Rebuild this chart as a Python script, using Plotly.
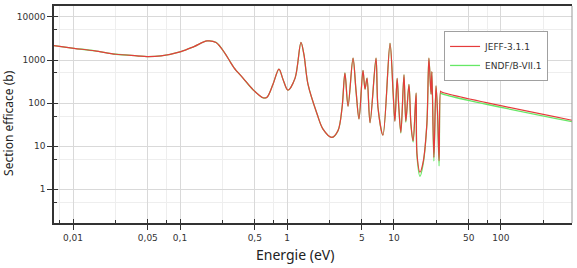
import plotly.graph_objects as go

# Energy (eV) and cross section (b)
energy = [0.00664, 0.0102, 0.0160, 0.0252, 0.0396, 0.0492, 0.0664, 0.102, 0.135, 0.179, 0.217,
          0.264, 0.293, 0.320, 0.388, 0.481, 0.597, 0.650, 0.740, 0.841, 0.918,
          1.02, 1.19, 1.35, 1.44, 1.57, 1.91, 2.17, 2.63, 3.00, 3.27,
          3.48, 3.72, 4.14, 4.42, 4.71, 5.13, 5.36, 5.60, 5.97, 6.79,
          7.09, 7.89, 9.18, 9.80, 10.2, 10.7, 11.1, 11.6, 12.4, 12.9,
          13.8, 14.4, 15.1, 16.1, 16.4, 17.5, 18.7, 20.3, 21.2, 22.2,
          22.6, 23.6, 24.7, 25.5, 26.4, 27.2, 27.5, 461]
sigma_jeff = [2150, 1870, 1630, 1360, 1250, 1200, 1250, 1570, 2050, 2770, 2560,
              1410, 925, 660, 380, 205, 133, 137, 275, 615, 355,
              200, 380, 2560, 1330, 275, 56, 25, 16, 23, 78,
              500, 85, 1100, 190, 43, 575, 210, 380, 35, 1100,
              78, 18, 2450, 190, 38, 375, 78, 21, 455, 38,
              270, 33, 13.4, 170, 6.7, 2.5, 4.2, 33, 1100, 160,
              540, 5.5, 250, 65, 4.6, 190, 183, 40]
sigma_endf = [2150, 1870, 1630, 1360, 1250, 1200, 1250, 1570, 2050, 2770, 2560,
              1410, 925, 660, 380, 205, 133, 137, 275, 615, 355,
              200, 380, 2560, 1330, 275, 56, 25, 16, 23, 78,
              500, 85, 1100, 190, 43, 575, 210, 380, 35, 1100,
              78, 18, 2450, 190, 38, 375, 78, 20, 455, 36,
              270, 31, 12.5, 170, 6.0, 2.0, 3.8, 33, 1100, 160,
              540, 4.5, 250, 65, 3.5, 175, 168, 37]

x_tickvals = [0.01, 0.05, 0.1, 0.5, 1, 5, 10, 50, 100]
x_ticktext = ["0,01", "0,05", "0,1", "0,5", "1", "5", "10", "50", "100"]
x_minor = [0.0075, 0.025, 0.075, 0.25, 0.75, 2.5, 7.5, 25, 75, 250]
y_tickvals = [1, 10, 100, 1000, 10000]
y_ticktext = ["1", "10", "100", "1000", "10000"]
y_minor = [0.5, 5, 50, 500, 5000]

fig = go.Figure()
fig.add_trace(go.Scatter(x=energy, y=sigma_endf, mode="lines", name="ENDF/B-VII.1",
                         line=dict(color="#66e866", width=1.3, shape="spline", smoothing=0.9),
                         legendrank=2))
fig.add_trace(go.Scatter(x=energy, y=sigma_jeff, mode="lines", name="JEFF-3.1.1",
                         line=dict(color="#e53c3c", width=1.2, shape="spline", smoothing=0.9),
                         legendrank=1))

xr = [-2.178, 2.664]
yr = [-0.782, 4.253]
tickfont = dict(family="DejaVu Sans", size=9, color="#333333")
titlefont = dict(family="Noto Sans", color="#222222")

fig.update_layout(
    width=577, height=268,
    margin=dict(l=54, r=5, t=4, b=45),
    paper_bgcolor="white", plot_bgcolor="white",
    showlegend=True,
    legend=dict(x=0.753, y=0.885, xanchor="left", yanchor="top",
                bgcolor="white", bordercolor="#a0a0a0", borderwidth=1,
                font=dict(family="DejaVu Sans", size=9, color="#333333"),
                tracegroupgap=0, itemwidth=30),
    xaxis=dict(type="log", range=xr, tickmode="array", tickvals=x_tickvals,
               ticktext=x_ticktext, tickfont=tickfont, ticks="outside", ticklen=5,
               tickcolor="#333333", showline=True, linecolor="#333333", linewidth=1.5,
               mirror=True, gridcolor="#d9d9d9", gridwidth=1, zeroline=False,
               minor=dict(tickmode="array", tickvals=x_minor, ticks="inside",
                          ticklen=3, tickcolor="#333333", showgrid=True,
                          gridcolor="#eeeeee", gridwidth=1)),
    yaxis=dict(type="log", range=yr, tickmode="array", tickvals=y_tickvals,
               ticktext=y_ticktext, tickfont=tickfont, ticks="outside", ticklen=5,
               tickcolor="#333333", showline=True, linecolor="#333333", linewidth=1.5,
               gridcolor="#d9d9d9", gridwidth=1, zeroline=False,
               minor=dict(tickmode="array", tickvals=y_minor, ticks="inside",
                          ticklen=3, tickcolor="#333333", showgrid=True,
                          gridcolor="#eeeeee", gridwidth=1)),
    xaxis2=dict(type="log", range=xr, overlaying="x", tickmode="array", tickvals=x_tickvals,
                showticklabels=False, ticks="inside", ticklen=4, tickcolor="#333333",
                showgrid=False, zeroline=False, side="bottom"),
    yaxis2=dict(type="log", range=yr, overlaying="y", tickmode="array", tickvals=y_tickvals,
                showticklabels=False, ticks="inside", ticklen=4, tickcolor="#333333",
                showgrid=False, zeroline=False, side="left"),
    annotations=[
        dict(text="Energie (eV)", xref="paper", yref="paper", x=0.466, y=-0.146,
             xanchor="center", yanchor="middle", showarrow=False,
             font=dict(size=14, **titlefont)),
        dict(text="Section efficace (b)", xref="paper", yref="paper", x=-0.087, y=0.461,
             xanchor="center", yanchor="middle", textangle=-90, showarrow=False,
             font=dict(size=12, **titlefont)),
    ],
)
# invisible trace to activate overlay axes
fig.add_trace(go.Scatter(x=[energy[0]], y=[sigma_jeff[0]], xaxis="x2", yaxis="y2",
                         mode="markers", marker=dict(opacity=0), showlegend=False,
                         hoverinfo="skip"))
fig.add_shape(type="line", xref="x domain", yref="y domain", x0=1, x1=1, y0=0, y1=1,
              line=dict(color="#999999", width=1))

fig.write_html("out.html")
